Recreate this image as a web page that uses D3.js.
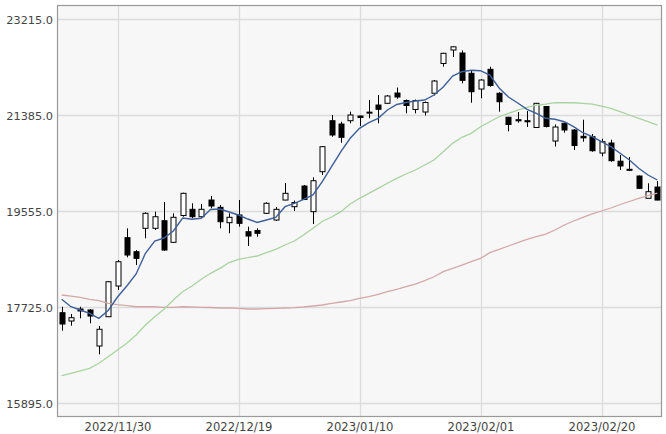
<!DOCTYPE html>
<html><head><meta charset="utf-8">
<script src="https://cdn.jsdelivr.net/npm/d3@7"></script>
<style>html,body{margin:0;padding:0;background:#fff;}svg{display:block;}</style>
</head><body><svg id="c" width="666" height="434"></svg>
<script>
const open  = [17622,17464,17693,17674,16987,17546,18131,19052,18785,19231,19231,19376,18964,19475,19593,19452,19770,19631,19338,19485,19166,19189,19517,19389,19770,19643,20037,19548,20310,21282,21219,21282,21372,21430,21581,21614,21810,21667,21496,21448,21805,22373,22630,22573,22186,21886,22262,21805,21347,21301,21282,21153,21553,20895,21233,21105,20985,20977,20666,20857,20510,20356,20228,19803,20018];
const high  = [17736,17597,17736,17690,17369,18226,18627,19231,18817,19536,19548,19732,19517,19910,19708,19694,19847,19675,19517,19770,19262,19231,19727,19637,20095,19761,20056,20203,20800,21391,21263,21454,21380,21677,21772,21772,21915,21686,21686,21648,22058,22578,22700,22624,22239,22071,22312,21825,21358,21448,21467,21620,21563,21210,21244,21118,21301,21029,20937,20920,20628,20590,20238,20089,20133];
const low   = [17279,17374,17515,17420,16829,17540,18055,18678,18531,19040,19199,18804,18950,19452,19422,19422,19612,19231,19136,19262,18894,19071,19504,19370,19765,19561,19770,19313,20247,20977,20863,21233,21181,21328,21233,21600,21700,21423,21423,21381,21763,22312,22496,21995,21625,21709,21930,21454,21080,21244,21162,21145,21153,20790,21053,20724,20882,20691,20603,20501,20342,20329,19990,19800,19765];
const close = [17407,17527,17655,17559,17306,18213,18594,18722,18659,19517,19452,18817,19441,19898,19452,19593,19656,19357,19441,19326,19084,19136,19708,19593,19898,19723,19780,20138,20787,21010,20966,21391,21343,21445,21500,21753,21734,21572,21667,21629,22039,22567,22691,22052,21835,22058,21953,21644,21210,21280,21262,21614,21172,21162,21105,20809,20955,20710,20882,20520,20419,20340,19993,19929,19770];
const ma5   = [17878,17736,17674,17611,17515,17664,17921,18131,18360,18755,18989,19046,19180,19427,19403,19422,19589,19599,19542,19485,19408,19342,19389,19437,19643,19708,19784,19866,20119,20405,20691,20947,21137,21244,21328,21486,21591,21629,21658,21677,21772,21925,22134,22216,22243,22235,22153,21906,21734,21620,21500,21423,21328,21309,21263,21168,21053,20977,20882,20787,20661,20533,20375,20247,20152];
const ma25  = [16421,16467,16511,16562,16658,16783,16911,17039,17197,17388,17546,17687,17864,18022,18131,18259,18373,18468,18579,18640,18671,18703,18766,18831,18913,18989,19103,19231,19361,19446,19548,19694,19803,19898,19993,20089,20184,20266,20342,20438,20533,20691,20851,20966,21042,21168,21263,21358,21423,21486,21538,21581,21600,21625,21625,21625,21614,21600,21562,21519,21454,21391,21328,21263,21200];
const ma75  = [17960,17940,17916,17878,17851,17801,17775,17756,17736,17736,17736,17725,17725,17736,17731,17725,17721,17712,17712,17706,17693,17693,17699,17706,17712,17718,17731,17750,17769,17801,17826,17851,17897,17927,17973,18022,18068,18118,18169,18232,18308,18404,18468,18531,18594,18659,18766,18831,18894,18957,19021,19071,19122,19199,19294,19370,19441,19504,19561,19618,19685,19742,19803,19856,19904];
const yTicks = [15895, 17725, 19555, 21385, 23215];
const xTickLabels = ["2022/11/30","2022/12/19","2023/01/10","2023/02/01","2023/02/20"];
const xTickIndex = [6, 19, 32, 45, 58];

const svg = d3.select("#c");
const L = 57, R = 662, T = 5, B = 417;
const n = close.length;
const x = d3.scaleLinear().domain([-0.5, n - 0.5]).range([L, R]);
const y = d3.scaleLinear().domain([15634, 23488]).range([B, T]);

svg.append("rect").attr("x", L).attr("y", T).attr("width", R - L).attr("height", B - T).attr("fill", "#f7f7f7");
svg.append("defs").append("clipPath").attr("id", "clip").append("rect").attr("x", L).attr("y", T).attr("width", R - L).attr("height", B - T);

// grid
const g = svg.append("g");
g.selectAll("line.h").data(yTicks).join("line")
  .attr("x1", L).attr("x2", R)
  .attr("y1", d => Math.round(y(d)) + 0.5).attr("y2", d => Math.round(y(d)) + 0.5)
  .attr("stroke", "#dcdcdc").attr("stroke-width", 1.3);
g.selectAll("line.v").data(xTickIndex).join("line")
  .attr("y1", T).attr("y2", B)
  .attr("x1", d => Math.round(x(d)) + 0.5).attr("x2", d => Math.round(x(d)) + 0.5)
  .attr("stroke", "#dcdcdc").attr("stroke-width", 1.3);

// axes labels via d3 axes
const yAxis = svg.append("g").attr("transform", `translate(${L - 4},0)`)
  .call(d3.axisLeft(y).tickValues(yTicks).tickFormat(d3.format(".1f")).tickSize(0).tickPadding(0));
yAxis.select(".domain").remove();
yAxis.selectAll("text").attr("font-family", "DejaVu Sans, Verdana, sans-serif").attr("font-size", "11.3px").attr("fill", "#444").attr("dy", "0.35em");

const xAxis = svg.append("g").attr("transform", `translate(0,${B})`)
  .call(d3.axisBottom(x).tickValues(xTickIndex).tickFormat((d, i) => xTickLabels[i]).tickSize(0).tickPadding(6));
xAxis.select(".domain").remove();
xAxis.selectAll("text").attr("font-family", "DejaVu Sans, Verdana, sans-serif").attr("font-size", "11.6px").attr("fill", "#444").attr("dy", "0.71em");

const plot = svg.append("g").attr("clip-path", "url(#clip)");
const idx = d3.range(n);

// candles
const cw = 5;
const c = plot.append("g");
c.selectAll("line.w").data(idx).join("line")
  .attr("x1", i => Math.round(x(i)) + 0.5).attr("x2", i => Math.round(x(i)) + 0.5)
  .attr("y1", i => y(high[i])).attr("y2", i => y(low[i]))
  .attr("stroke", "#000").attr("stroke-width", 1);
c.selectAll("rect.b").data(idx).join("rect")
  .attr("x", i => Math.round(x(i)) - cw / 2 + 0.5)
  .attr("y", i => y(Math.max(open[i], close[i])))
  .attr("width", cw)
  .attr("height", i => Math.max(1, y(Math.min(open[i], close[i])) - y(Math.max(open[i], close[i]))))
  .attr("fill", i => close[i] >= open[i] ? "#fff" : "#000")
  .attr("stroke", "#000").attr("stroke-width", 1);

// moving averages
const line = arr => d3.line().x((d, i) => x(i)).y(d => y(d))(arr);
plot.append("path").attr("d", line(ma75)).attr("fill", "none").attr("stroke", "#d4a8a8").attr("stroke-width", 1.3);
plot.append("path").attr("d", line(ma25)).attr("fill", "none").attr("stroke", "#a9d3a0").attr("stroke-width", 1.3);
plot.append("path").attr("d", line(ma5)).attr("fill", "none").attr("stroke", "#3e5f98").attr("stroke-width", 1.4);

// frame
svg.append("rect").attr("x", L + 0.5).attr("y", T + 0.5).attr("width", R - L - 1).attr("height", B - T - 1)
  .attr("fill", "none").attr("stroke", "#9a9a9a").attr("stroke-width", 1.2);
</script></body></html>
